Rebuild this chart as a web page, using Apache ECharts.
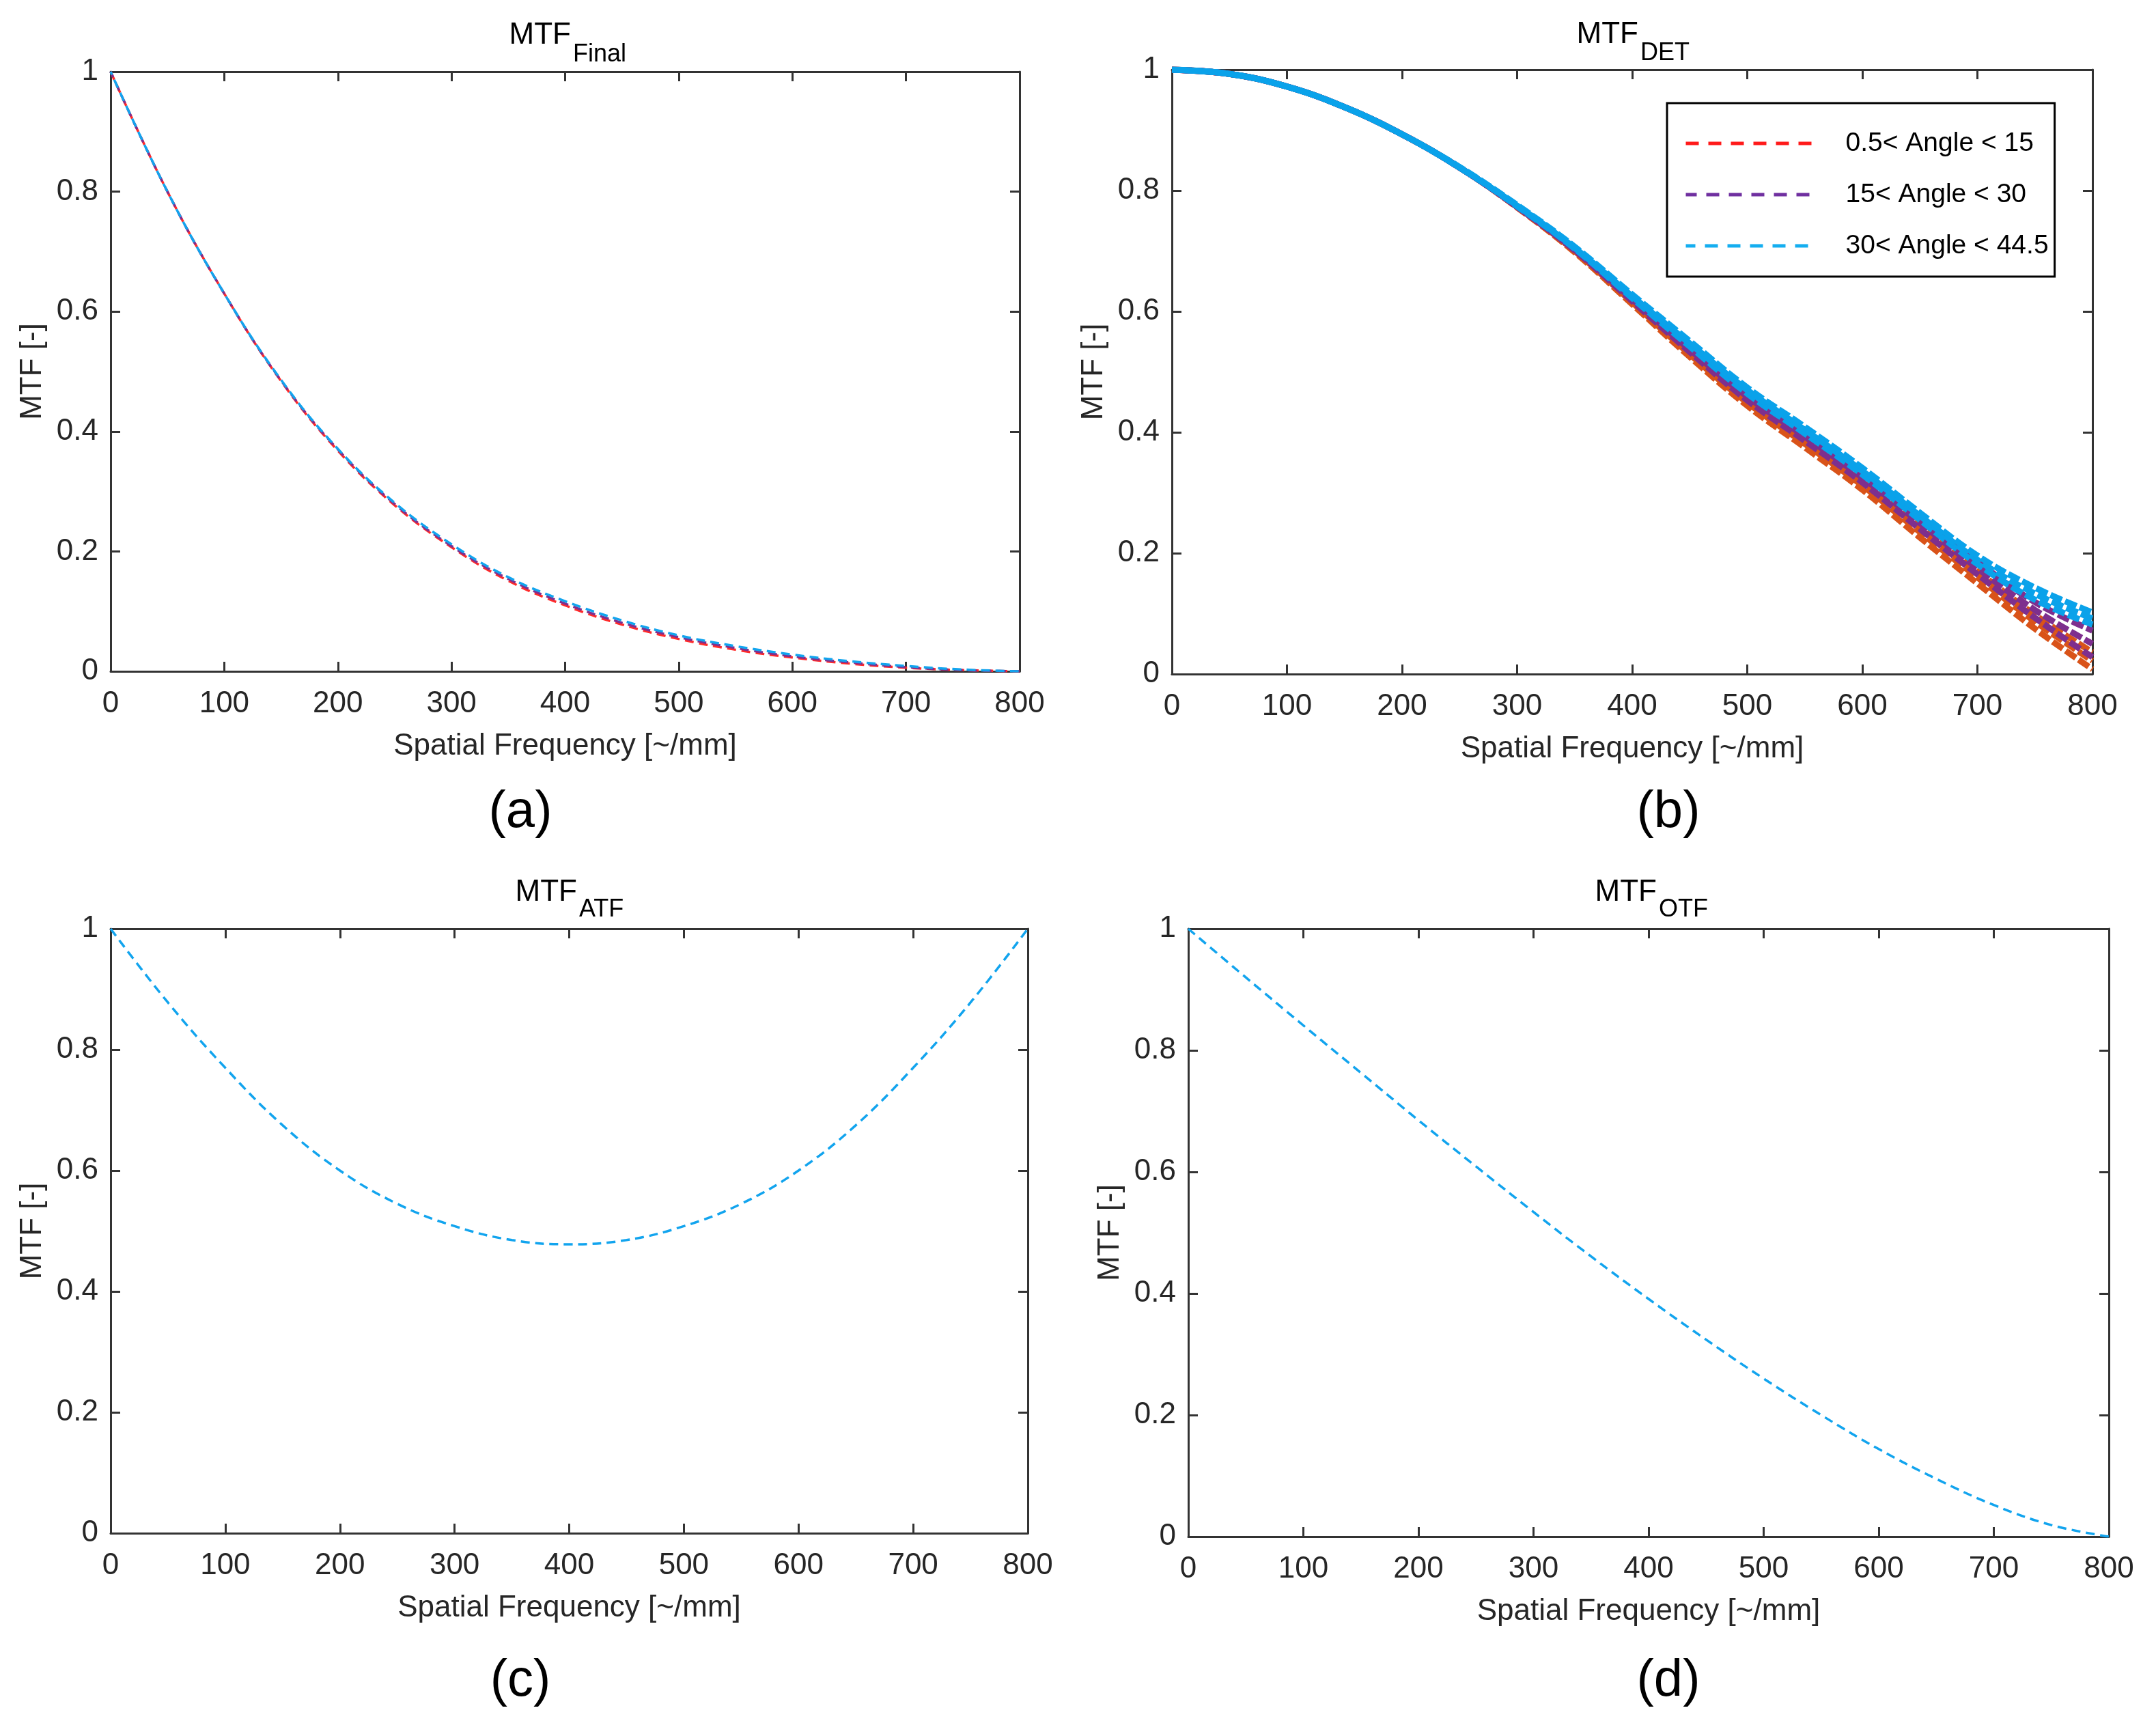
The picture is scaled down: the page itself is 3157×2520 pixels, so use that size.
<!DOCTYPE html>
<html>
<head>
<meta charset="utf-8">
<script src="https://cdn.jsdelivr.net/npm/echarts@6/dist/echarts.min.js"></script>
<style>
html,body{margin:0;padding:0;background:#fff;}
#c{width:3157px;height:2520px;}
</style>
</head>
<body>
<div id="c"></div>
<script>
// ---------- data ----------
const freq = [0,50,100,150,200,250,300,350,400,450,500,550,600,650,700,750,800];

// (a) MTF_Final
const finalRed    = [1,0.80,0.63,0.484,0.368,0.277,0.207,0.151,0.110,0.078,0.054,0.036,0.023,0.013,0.006,0.002,0];
const finalPurple = [1,0.80,0.63,0.485,0.370,0.279,0.209,0.154,0.113,0.081,0.057,0.039,0.025,0.015,0.007,0.002,0];
const finalBlue   = [1,0.80,0.63,0.486,0.371,0.281,0.212,0.157,0.117,0.085,0.060,0.042,0.028,0.017,0.009,0.003,0];

// (b) MTF_DET – three bundles of curves per angle range
const detRedLo  = [1,0.993,0.972,0.938,0.893,0.838,0.772,0.698,0.612,0.525,0.444,0.375,0.305,0.226,0.150,0.075,0.008];
const detRedMid = [1,0.993,0.972,0.938,0.893,0.838,0.773,0.700,0.615,0.529,0.449,0.381,0.312,0.235,0.160,0.087,0.022];
const detRedHi  = [1,0.993,0.972,0.938,0.893,0.838,0.773,0.701,0.618,0.533,0.454,0.387,0.319,0.244,0.170,0.098,0.036];
const detPurLo  = [1,0.993,0.972,0.938,0.893,0.838,0.773,0.701,0.617,0.533,0.453,0.386,0.317,0.240,0.165,0.093,0.028];
const detPurMid = [1,0.993,0.972,0.938,0.893,0.838,0.773,0.702,0.620,0.537,0.459,0.393,0.325,0.250,0.175,0.106,0.050];
const detPurHi  = [1,0.993,0.972,0.938,0.893,0.838,0.774,0.703,0.623,0.542,0.464,0.399,0.333,0.260,0.186,0.119,0.072];
const detBluLo  = [1,0.993,0.972,0.938,0.893,0.838,0.774,0.704,0.622,0.542,0.464,0.398,0.330,0.255,0.182,0.123,0.082];
const detBluMid = [1,0.993,0.972,0.938,0.893,0.838,0.775,0.705,0.625,0.547,0.470,0.404,0.336,0.262,0.189,0.133,0.092];
const detBluHi  = [1,0.993,0.972,0.938,0.893,0.839,0.776,0.707,0.628,0.551,0.474,0.409,0.341,0.267,0.196,0.143,0.102];

// (c) MTF_ATF
const atf = [1,0.878,0.770,0.675,0.600,0.545,0.508,0.485,0.478,0.485,0.508,0.545,0.600,0.675,0.770,0.878,1];

// (d) MTF_OTF
const otf = [1,0.920,0.841,0.763,0.685,0.609,0.534,0.461,0.391,0.324,0.260,0.200,0.144,0.095,0.052,0.019,0];

const legendNames = ['0.5< Angle < 15','15< Angle < 30','30< Angle < 44.5'];
const panelTitles = [['MTF','Final'],['MTF','DET'],['MTF','ATF'],['MTF','OTF']];
const panelLetters = ['(a)','(b)','(c)','(d)'];
const xName = 'Spatial Frequency [~/mm]';
const yName = 'MTF [-]';

// ---------- chart ----------
const FONT = 'Liberation Sans, Arial, Helvetica, sans-serif';
const AX = '#333333';
const TXT = '#262626';
const BLUE = '#12a4ee';

const grids = [
  {left:162, top:105, width:1331, height:878},
  {left:1716, top:102, width:1348, height:885},
  {left:162, top:1360, width:1343, height:885},
  {left:1740, top:1360, width:1348, height:890}
];
// split x between main text and subscript, centre y of main text, centre y of subscript
const titlePos = [[836,52,80],[2399,51,78],[845,1307,1332],[2426,1307,1332]];
const letterPos = [[762,1190],[2443,1190],[762,2462],[2443,2462]];

const pairs = ys => freq.map((x,i)=>[x, ys[i]]);

const xAxes = [], yAxes = [];
grids.forEach((g,i)=>{
  const tick = {show:true, inside:true, length:14, lineStyle:{color:AX, width:3}};
  const line = {show:true, onZero:false, lineStyle:{color:AX, width:3}};
  xAxes.push({type:'value', gridIndex:i, position:'bottom', min:0, max:800, interval:100,
    axisLine:line, axisTick:tick, splitLine:{show:false},
    axisLabel:{show:true, margin:26, fontSize:44, color:TXT, fontFamily:FONT},
    name:xName, nameLocation:'middle', nameGap:88,
    nameTextStyle:{fontSize:44, color:TXT, fontFamily:FONT}});
  xAxes.push({type:'value', gridIndex:i, position:'top', min:0, max:800, interval:100,
    axisLine:line, axisTick:tick, splitLine:{show:false}, axisLabel:{show:false}});
  yAxes.push({type:'value', gridIndex:i, position:'left', min:0, max:1, interval:0.2,
    axisLine:line, axisTick:tick, splitLine:{show:false},
    axisLabel:{show:true, margin:18, fontSize:44, color:TXT, fontFamily:FONT},
    name:yName, nameLocation:'middle', nameGap:92,
    nameTextStyle:{fontSize:44, color:TXT, fontFamily:FONT}});
  yAxes.push({type:'value', gridIndex:i, position:'right', min:0, max:1, interval:0.2,
    axisLine:line, axisTick:tick, splitLine:{show:false}, axisLabel:{show:false}});
});

function dashed(name, grid, ys, color, width, dash, offset, z){
  return {type:'line', name:name, xAxisIndex:grid*2, yAxisIndex:grid*2,
    data:pairs(ys), showSymbol:false, symbol:'none', smooth:0.4,
    lineStyle:{color:color, width:width, type:dash, dashOffset:offset||0},
    itemStyle:{color:color}, z:z||2, silent:true, animation:false};
}

const series = [
  dashed('fr',0,finalRed,'#ff2a2a',3.5,[13,8],0,2),
  dashed('fp',0,finalPurple,'#7e2f8e',3.5,[13,8],4,3),
  dashed('fb',0,finalBlue,BLUE,3.5,[13,8],8,4),

  dashed(legendNames[0],1,detRedLo,'#d95319',9,[18,5],0,2),
  dashed(legendNames[0],1,detRedMid,'#d95319',9,[18,5],8,2),
  dashed(legendNames[0],1,detRedHi,'#d95319',9,[18,5],15,2),
  dashed(legendNames[1],1,detPurLo,'#7e2f8e',9,[18,5],3,3),
  dashed(legendNames[1],1,detPurMid,'#7e2f8e',9,[18,5],11,3),
  dashed(legendNames[1],1,detPurHi,'#7e2f8e',9,[18,5],18,3),
  dashed(legendNames[2],1,detBluLo,'#0aa2ea',9,[18,5],5,4),
  dashed(legendNames[2],1,detBluMid,'#0aa2ea',9,[18,5],13,4),
  dashed(legendNames[2],1,detBluHi,'#0aa2ea',9,[18,5],20,4),

  dashed('atf',2,atf,BLUE,3.5,[13,8],0,3),
  dashed('otf',3,otf,BLUE,3.5,[13,8],0,3)
];

const graphics = [];
panelTitles.forEach((t,i)=>{
  const p = titlePos[i];
  graphics.push({type:'text', x:p[0], y:p[1], silent:true,
    style:{text:t[0], fontSize:44, fontFamily:FONT, fill:'#000', textAlign:'right', textVerticalAlign:'middle'}});
  graphics.push({type:'text', x:p[0]+3, y:p[2], silent:true,
    style:{text:t[1], fontSize:36, fontFamily:FONT, fill:'#000', textAlign:'left', textVerticalAlign:'middle'}});
});
panelLetters.forEach((l,i)=>{
  graphics.push({type:'text', x:letterPos[i][0], y:letterPos[i][1], silent:true,
    style:{text:l, fontSize:76, fontFamily:FONT, fill:'#000', textAlign:'center', textVerticalAlign:'middle'}});
});

const hidden = {color:'rgba(0,0,0,0)', borderColor:'rgba(0,0,0,0)', borderWidth:0, opacity:0};
const option = {
  backgroundColor:'#fff',
  animation:false,
  grid:grids.map(g=>Object.assign({containLabel:false}, g)),
  xAxis:xAxes,
  yAxis:yAxes,
  legend:{
    show:true, selectedMode:false, orient:'vertical',
    left:2441, top:151,
    padding:[39,9,25,25],
    borderColor:'#000', borderWidth:3, backgroundColor:'#fff',
    itemWidth:193, itemHeight:20, itemGap:35,
    textStyle:{fontSize:39, lineHeight:40, color:'#000', fontFamily:FONT, padding:[0,0,0,36]},
    data:[
      {name:legendNames[0], itemStyle:hidden, lineStyle:{color:'#ff1a1a', width:5, type:[19,14]}},
      {name:legendNames[1], itemStyle:hidden, lineStyle:{color:'#7030a0', width:5, type:[19,14]}},
      {name:legendNames[2], itemStyle:hidden, lineStyle:{color:'#14aef0', width:5, type:[19,14]}}
    ]
  },
  graphic:graphics,
  series:series
};

const chart = echarts.init(document.getElementById('c'), null, {renderer:'canvas'});
chart.setOption(option);
</script>
</body>
</html>
